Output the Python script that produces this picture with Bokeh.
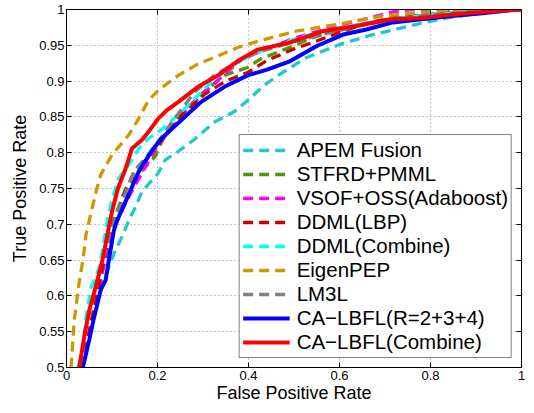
from bokeh.plotting import figure
from bokeh.models import Range1d, FixedTicker, LinearAxis, Legend, LegendItem, CustomLabelingPolicy
from bokeh.embed import file_html
from bokeh.resources import INLINE

# ---- data ----
apem_x = [0.03, 0.05, 0.07, 0.09, 0.105, 0.12, 0.14, 0.151, 0.166, 0.2, 0.217, 0.246, 0.28, 0.326, 0.37, 0.398, 0.434, 0.47, 0.528, 0.6, 0.673, 0.709, 0.767, 0.833, 0.9, 0.96, 1.0]
apem_y = [0.5, 0.55, 0.6, 0.635, 0.66, 0.68, 0.71, 0.723, 0.746, 0.77, 0.79, 0.802, 0.818, 0.843, 0.858, 0.873, 0.894, 0.91, 0.933, 0.951, 0.965, 0.97, 0.979, 0.988, 0.994, 0.998, 1.0]

stfrd_x = [0.035, 0.05, 0.065, 0.08, 0.1, 0.13, 0.166, 0.195, 0.22, 0.25, 0.296, 0.347, 0.398, 0.427, 0.463, 0.543, 0.6, 0.724, 0.85, 1.0]
stfrd_y = [0.5, 0.55, 0.6, 0.65, 0.7, 0.75, 0.775, 0.795, 0.83, 0.852, 0.882, 0.908, 0.919, 0.931, 0.94, 0.961, 0.972, 0.99, 0.997, 1.0]

vsof_x = [0.035, 0.05, 0.068, 0.085, 0.108, 0.13, 0.151, 0.17, 0.2, 0.26, 0.311, 0.39, 0.42, 0.5, 0.6, 0.72, 0.76, 1.0]
vsof_y = [0.5, 0.55, 0.6, 0.65, 0.7, 0.73, 0.755, 0.776, 0.81, 0.857, 0.889, 0.933, 0.94, 0.96, 0.978, 0.997, 1.0, 1.0]

ddml_lbp_x = [0.035, 0.05, 0.067, 0.082, 0.105, 0.125, 0.15, 0.2, 0.25, 0.304, 0.35, 0.398, 0.441, 0.5, 0.55, 0.6, 0.666, 0.75, 0.85, 1.0]
ddml_lbp_y = [0.5, 0.55, 0.6, 0.65, 0.7, 0.74, 0.775, 0.81, 0.85, 0.882, 0.9, 0.912, 0.929, 0.945, 0.956, 0.968, 0.982, 0.99, 0.997, 1.0]

ddml_comb_x = [0.025, 0.036, 0.043, 0.054, 0.063, 0.072, 0.08, 0.09, 0.1, 0.115, 0.137, 0.159, 0.18, 0.202, 0.22, 0.267, 0.32, 0.36, 0.39, 0.412, 0.46, 0.513, 0.58, 0.65, 0.72, 0.8, 0.9, 1.0]
ddml_comb_y = [0.5, 0.525, 0.571, 0.612, 0.625, 0.64, 0.668, 0.707, 0.735, 0.765, 0.783, 0.806, 0.82, 0.829, 0.838, 0.866, 0.9, 0.92, 0.931, 0.938, 0.95, 0.961, 0.972, 0.98, 0.987, 0.993, 0.998, 1.0]

eigen_x = [0.01, 0.017, 0.028, 0.036, 0.043, 0.054, 0.065, 0.075, 0.1, 0.137, 0.159, 0.18, 0.2, 0.22, 0.246, 0.289, 0.333, 0.376, 0.434, 0.507, 0.593, 0.695, 0.8, 0.9, 1.0]
eigen_y = [0.5, 0.566, 0.62, 0.65, 0.686, 0.716, 0.746, 0.769, 0.797, 0.825, 0.848, 0.873, 0.886, 0.896, 0.908, 0.924, 0.935, 0.947, 0.958, 0.97, 0.979, 0.991, 0.997, 1.0, 1.0]

lm3l_x = [0.03, 0.043, 0.057, 0.065, 0.075, 0.09, 0.104, 0.12, 0.15, 0.191, 0.24, 0.282, 0.325, 0.37, 0.42, 0.5, 0.58, 0.65, 0.72, 0.8, 0.9, 1.0]
lm3l_y = [0.5, 0.557, 0.594, 0.617, 0.64, 0.67, 0.7, 0.73, 0.775, 0.806, 0.85, 0.885, 0.908, 0.925, 0.94, 0.955, 0.968, 0.978, 0.986, 0.993, 0.998, 1.0]

lbfl_r_x = [0.036, 0.05, 0.061, 0.075, 0.086, 0.093, 0.104, 0.111, 0.13, 0.141, 0.159, 0.177, 0.191, 0.209, 0.224, 0.296, 0.347, 0.398, 0.441, 0.492, 0.55, 0.608, 0.659, 0.717, 0.775, 0.847, 0.92, 0.99, 1.0]
lbfl_r_y = [0.5, 0.539, 0.571, 0.608, 0.622, 0.65, 0.691, 0.705, 0.732, 0.748, 0.774, 0.792, 0.806, 0.82, 0.829, 0.871, 0.892, 0.908, 0.916, 0.928, 0.949, 0.965, 0.972, 0.982, 0.986, 0.991, 0.995, 1.0, 1.0]

lbfl_c_x = [0.028, 0.039, 0.05, 0.066, 0.079, 0.09, 0.1, 0.113, 0.13, 0.144, 0.166, 0.18, 0.202, 0.22, 0.246, 0.289, 0.333, 0.376, 0.42, 0.492, 0.565, 0.637, 0.709, 0.775, 0.883, 0.992, 1.0]
lbfl_c_y = [0.5, 0.543, 0.58, 0.617, 0.65, 0.686, 0.718, 0.75, 0.778, 0.806, 0.818, 0.829, 0.848, 0.859, 0.871, 0.892, 0.908, 0.928, 0.944, 0.954, 0.97, 0.977, 0.986, 0.988, 0.995, 1.0, 1.0]

x_ticks = [0, 0.2, 0.4, 0.6, 0.8, 1.0]
x_tick_labels = ["0", "0.2", "0.4", "0.6", "0.8", "1"]
y_ticks = [0.5, 0.55, 0.6, 0.65, 0.7, 0.75, 0.8, 0.85, 0.9, 0.95, 1.0]
y_tick_labels = ["0.5", "0.55", "0.6", "0.65", "0.7", "0.75", "0.8", "0.85", "0.9", "0.95", "1"]

series = [
    ("APEM Fusion", apem_x, apem_y, "#22C8C8", True),
    ("STFRD+PMML", stfrd_x, stfrd_y, "#4C9A00", True),
    ("VSOF+OSS(Adaboost)", vsof_x, vsof_y, "#FF00FF", True),
    ("DDML(LBP)", ddml_lbp_x, ddml_lbp_y, "#CC0000", True),
    ("DDML(Combine)", ddml_comb_x, ddml_comb_y, "#00FFFF", True),
    ("EigenPEP", eigen_x, eigen_y, "#CC9900", True),
    ("LM3L", lm3l_x, lm3l_y, "#7F7F7F", True),
    ("CA\u2212LBFL(R=2+3+4)", lbfl_r_x, lbfl_r_y, "#0000FF", False),
    ("CA\u2212LBFL(Combine)", lbfl_c_x, lbfl_c_y, "#FF0000", False),
]

FONT = "Liberation Sans"

p = figure(width=526, height=405, output_backend="svg", toolbar_location=None,
           x_range=Range1d(0, 1), y_range=Range1d(0.5, 1),
           min_border_left=66, min_border_right=3, min_border_top=9, min_border_bottom=34)

items = []
for name, xs, ys, col, dashed in series:
    if dashed:
        r = p.line(xs, ys, line_color=col, line_width=3.3, line_dash="10 6")
    else:
        r = p.line(xs, ys, line_color=col, line_width=4)
    items.append(LegendItem(label=name, renderers=[r]))

p.outline_line_color = "black"
p.outline_line_width = 1
p.background_fill_color = "white"
p.border_fill_color = "white"

p.xaxis.ticker = FixedTicker(ticks=x_ticks)
p.yaxis.ticker = FixedTicker(ticks=y_ticks)
p.xaxis.major_label_overrides = {t: l for t, l in zip(x_ticks, x_tick_labels)}
p.yaxis.major_label_overrides = {t: l for t, l in zip(y_ticks, y_tick_labels)}
p.xaxis.axis_label = "False Positive Rate"
p.yaxis.axis_label = "True Positive Rate"

for ax in (p.xaxis[0], p.yaxis[0]):
    ax.major_tick_in = 5
    ax.major_tick_out = 0
    ax.minor_tick_line_color = None
    ax.axis_line_color = "black"
    ax.major_tick_line_color = "black"
    ax.major_label_text_font = FONT
    ax.major_label_text_font_size = "13px"
    ax.major_label_text_color = "black"
    ax.axis_label_text_font = FONT
    ax.axis_label_text_font_size = "18px"
    ax.axis_label_text_font_style = "normal"
    ax.axis_label_text_color = "black"
p.yaxis.major_label_standoff = 2
p.yaxis.axis_label_standoff = 6
p.xaxis.major_label_standoff = 3
p.xaxis.axis_label_standoff = 0

# mirrored tick marks on top and right (MATLAB box style), no labels drawn
for loc, tk in (("above", x_ticks), ("right", y_ticks)):
    ax = LinearAxis(ticker=FixedTicker(ticks=tk), major_tick_in=5, major_tick_out=0,
                    minor_tick_line_color=None, major_label_text_font_size="1px",
                    major_label_standoff=0, axis_line_color="black",
                    major_label_policy=CustomLabelingPolicy(code="return new Set()"))
    p.add_layout(ax, loc)

p.grid.grid_line_color = "#888888"
p.grid.grid_line_dash = "1 3"
p.xgrid.ticker = FixedTicker(ticks=x_ticks)
p.ygrid.ticker = FixedTicker(ticks=y_ticks)

legend = Legend(items=items, location="bottom_right")
legend.label_text_font = FONT
legend.label_text_font_size = "20.5px"
legend.label_text_color = "black"
legend.glyph_width = 47
legend.glyph_height = 24
legend.label_height = 24
legend.label_standoff = 7
legend.spacing = 0
legend.padding = 3
legend.margin = 9
legend.border_line_color = "black"
legend.border_line_width = 1.5
legend.background_fill_alpha = 1
p.add_layout(legend)

open("out.html", "w").write(file_html(p, INLINE))
